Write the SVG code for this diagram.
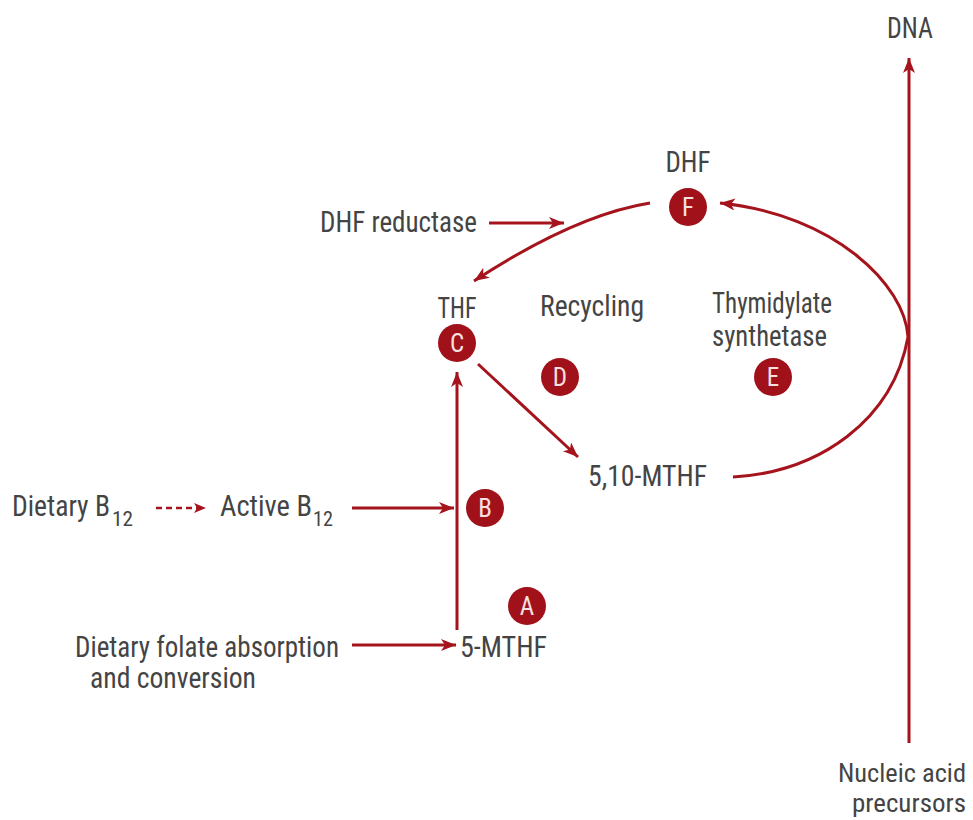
<svg xmlns="http://www.w3.org/2000/svg" width="973" height="820" viewBox="0 0 973 820">
  <defs>
    <marker id="arrow" markerUnits="userSpaceOnUse" markerWidth="16" markerHeight="14" refX="15" refY="6" orient="auto">
      <path d="M0,0 L15,6 L0,12 L4,6 z" fill="#a5141d"/>
    </marker>
    <marker id="arrow-small" markerUnits="userSpaceOnUse" markerWidth="14" markerHeight="12" refX="12" refY="5" orient="auto">
      <path d="M0,0 L12,5 L0,10 L3,5 z" fill="#a5141d"/>
    </marker>
  </defs>
  <style>
    .lbl { font-family: "Liberation Sans Narrow", "Roboto Condensed", "Liberation Sans", Arial, sans-serif; font-size: 29px; fill: #444444; }
    .sm { font-size: 26px; }
    .sub { font-size: 21px; }
    .mid { text-anchor: middle; }
    .end { text-anchor: end; }
    .dot { fill: #a0111a; }
    .dot-txt { font-family: "Liberation Sans Narrow", "Roboto Condensed", "Liberation Sans", Arial, sans-serif; font-size: 25px; fill: #f7e0e0; text-anchor: middle; }
    .link { fill: none; stroke: #a5141d; stroke-width: 3; }
    .dash { fill: none; stroke: #a5141d; stroke-width: 2.5; stroke-dasharray: 6 4; }
  </style>

  <!-- connectors -->
  <g id="connectors">
    <!-- nucleic acid precursors up to DNA -->
    <path class="link" d="M909,743 L909,58" marker-end="url(#arrow)"/>
    <!-- DHF -> THF -->
    <path class="link" d="M650,203 Q575,215 474,281" marker-end="url(#arrow)"/>
    <!-- DHF reductase -->
    <path class="link" d="M489,223 L564,223" marker-end="url(#arrow)"/>
    <!-- 5,10-MTHF loop back to DHF -->
    <path class="link" d="M733,477 C820,472 893,420 908,337 C905,285 835,215 720,203" marker-end="url(#arrow)"/>
    <!-- THF -> 5,10-MTHF -->
    <path class="link" d="M478,364 L578,457" marker-end="url(#arrow)"/>
    <!-- 5-MTHF up to THF -->
    <path class="link" d="M457,630 L457,372" marker-end="url(#arrow)"/>
    <!-- Active B12 into the pathway -->
    <path class="link" d="M352,508 L454,508" marker-end="url(#arrow)"/>
    <!-- dietary B12 -> active B12 -->
    <path class="dash" d="M156,508 L206,508" marker-end="url(#arrow-small)"/>
    <!-- dietary folate -> 5-MTHF -->
    <path class="link" d="M352,645 L456,645" marker-end="url(#arrow)"/>
  </g>

  <!-- labels -->
  <g id="dna"><text class="lbl mid" x="910" y="38" textLength="46" lengthAdjust="spacingAndGlyphs">DNA</text></g>
  <g id="nucleic-acid-precursors">
    <text class="lbl sm end" x="966" y="782" textLength="128" lengthAdjust="spacingAndGlyphs">Nucleic acid</text>
    <text class="lbl sm end" x="966" y="812" textLength="114" lengthAdjust="spacingAndGlyphs">precursors</text>
  </g>
  <g id="dhf"><text class="lbl mid" x="688" y="172" textLength="45" lengthAdjust="spacingAndGlyphs">DHF</text></g>
  <g id="dhf-reductase"><text class="lbl" x="320" y="232" textLength="157" lengthAdjust="spacingAndGlyphs">DHF reductase</text></g>
  <g id="thf"><text class="lbl mid" x="457" y="318" textLength="39" lengthAdjust="spacingAndGlyphs">THF</text></g>
  <g id="recycling"><text class="lbl" x="540" y="316" textLength="104" lengthAdjust="spacingAndGlyphs">Recycling</text></g>
  <g id="thymidylate-synthetase">
    <text class="lbl" x="712" y="313" textLength="120" lengthAdjust="spacingAndGlyphs">Thymidylate</text>
    <text class="lbl" x="712" y="346" textLength="115" lengthAdjust="spacingAndGlyphs">synthetase</text>
  </g>
  <g id="mthf-5-10"><text class="lbl" x="588" y="486" textLength="119" lengthAdjust="spacingAndGlyphs">5,10-MTHF</text></g>
  <g id="dietary-b12">
    <text class="lbl" x="12" y="516" textLength="98" lengthAdjust="spacingAndGlyphs">Dietary B</text>
    <text class="lbl sub" x="112" y="526" textLength="21" lengthAdjust="spacingAndGlyphs">12</text>
  </g>
  <g id="active-b12">
    <text class="lbl" x="220" y="516" textLength="92" lengthAdjust="spacingAndGlyphs">Active B</text>
    <text class="lbl sub" x="313" y="526" textLength="20" lengthAdjust="spacingAndGlyphs">12</text>
  </g>
  <g id="dietary-folate">
    <text class="lbl" x="75" y="657" textLength="264" lengthAdjust="spacingAndGlyphs">Dietary folate absorption</text>
    <text class="lbl" x="90" y="688" textLength="166" lengthAdjust="spacingAndGlyphs">and conversion</text>
  </g>
  <g id="mthf-5"><text class="lbl" x="460" y="657" textLength="87" lengthAdjust="spacingAndGlyphs">5-MTHF</text></g>

  <!-- lettered markers -->
  <g id="marker-a"><circle class="dot" cx="527" cy="606" r="19"/><text class="dot-txt" x="527" y="615">A</text></g>
  <g id="marker-b"><circle class="dot" cx="485" cy="508" r="19"/><text class="dot-txt" x="485" y="517">B</text></g>
  <g id="marker-c"><circle class="dot" cx="457" cy="343" r="19"/><text class="dot-txt" x="457" y="352">C</text></g>
  <g id="marker-d"><circle class="dot" cx="560" cy="377" r="19"/><text class="dot-txt" x="560" y="386">D</text></g>
  <g id="marker-e"><circle class="dot" cx="773" cy="377" r="19"/><text class="dot-txt" x="773" y="386">E</text></g>
  <g id="marker-f"><circle class="dot" cx="688" cy="207" r="19"/><text class="dot-txt" x="688" y="216">F</text></g>
</svg>
